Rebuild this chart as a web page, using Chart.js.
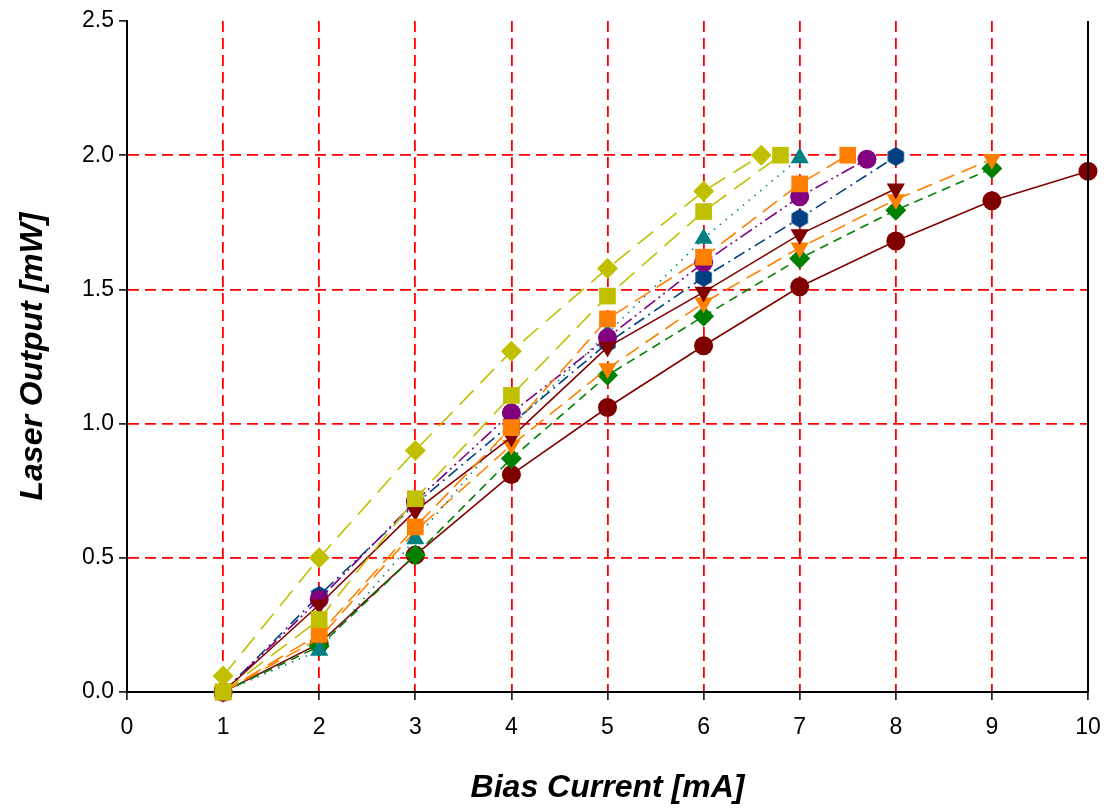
<!DOCTYPE html>
<html>
<head>
<meta charset="utf-8">
<script src="https://cdn.jsdelivr.net/npm/chart.js@4/dist/chart.umd.min.js"></script>
<style>
  html, body { margin: 0; padding: 0; background: #ffffff; }
  #wrap { width: 1112px; height: 808px; }
</style>
</head>
<body>
<div id="wrap"><canvas id="c" width="1112" height="808"></canvas></div>
<script>
// Laser output vs bias current, one curve per device

const xTickValues = [0, 1, 2, 3, 4, 5, 6, 7, 8, 9, 10];
const yTickValues = [0.0, 0.5, 1.0, 1.5, 2.0, 2.5];

const redCircleX = [1, 2, 3, 4, 5, 6, 7, 8, 9, 10];
const redCircleY = [0.00, 0.18, 0.51, 0.81, 1.06, 1.29, 1.51, 1.68, 1.83, 1.94];

const greenDiamondX = [1, 2, 3, 4, 5, 6, 7, 8, 9];
const greenDiamondY = [0.00, 0.17, 0.51, 0.87, 1.18, 1.40, 1.615, 1.795, 1.95];

const orangeDownX = [1, 2, 3, 4, 5, 6, 7, 8, 9];
const orangeDownY = [0.00, 0.20, 0.60, 0.92, 1.205, 1.45, 1.655, 1.835, 1.985];

const tealUpX = [1, 2, 3, 4, 5, 6, 7];
const tealUpY = [0.00, 0.155, 0.57, 0.99, 1.337, 1.69, 1.99];

const blueHexX = [1, 2, 3, 4, 5, 6, 7, 8];
const blueHexY = [0.00, 0.36, 0.70, 1.00, 1.30, 1.545, 1.765, 1.995];

const purpleCircleX = [1, 2, 3, 4, 5, 6, 7, 7.7];
const purpleCircleY = [0.00, 0.345, 0.71, 1.04, 1.32, 1.60, 1.845, 1.985];

const redDownX = [1, 2, 3, 4, 5, 6, 7, 8];
const redDownY = [0.00, 0.325, 0.675, 0.95, 1.285, 1.49, 1.705, 1.875];

const orangeSquareX = [1, 2, 3, 4, 5, 6, 7, 7.5];
const orangeSquareY = [0.00, 0.215, 0.615, 0.985, 1.39, 1.62, 1.893, 2.00];

const oliveSquareX = [1, 2, 3, 4, 5, 6, 6.8];
const oliveSquareY = [0.00, 0.27, 0.72, 1.105, 1.475, 1.79, 2.00];

const oliveDiamondX = [1, 2, 3, 4, 5, 6, 6.6];
const oliveDiamondY = [0.06, 0.50, 0.90, 1.27, 1.578, 1.866, 2.00];

const FONT = "'Liberation Sans', Arial, Helvetica, sans-serif";

// filled hexagon sprite used as a point style
function hexagonSprite(color, r) {
  const c = document.createElement('canvas');
  const s = Math.ceil(r * 2 + 2);
  c.width = s; c.height = s;
  const g = c.getContext('2d');
  g.fillStyle = color;
  g.beginPath();
  for (let k = 0; k < 6; k++) {
    const a = Math.PI / 2 + k * Math.PI / 3;
    const px = s / 2 + r * Math.cos(a);
    const py = s / 2 + r * Math.sin(a);
    if (k === 0) g.moveTo(px, py); else g.lineTo(px, py);
  }
  g.closePath();
  g.fill();
  return c;
}

function pts(xs, ys) { return xs.map((x, i) => ({ x: x, y: ys[i] })); }

function series(xs, ys, color, style, radius, dash, rotation) {
  return {
    data: pts(xs, ys),
    borderColor: color,
    backgroundColor: color,
    pointBackgroundColor: color,
    pointBorderColor: color,
    pointBorderWidth: 0,
    borderWidth: 1.6,
    borderDash: dash,
    pointStyle: style,
    pointRadius: radius,
    pointRotation: rotation || 0,
    tension: 0,
    fill: false,
    clip: false
  };
}

// listed from bottom layer to top layer
const layers = [
  series(redCircleX, redCircleY, '#800000', 'circle', 9.5, []),
  series(greenDiamondX, greenDiamondY, '#008000', 'rectRot', 10.5, [9, 6]),
  series(orangeDownX, orangeDownY, '#FF8000', 'triangle', 10.5, [16, 8], 180),
  series(tealUpX, tealUpY, '#008080', 'triangle', 10.5, [1.5, 6]),
  series(blueHexX, blueHexY, '#004080', hexagonSprite('#004080', 9.5), 9.5, [12, 5, 2, 5]),
  series(purpleCircleX, purpleCircleY, '#800080', 'circle', 9.5, [14, 4, 2, 4, 2, 4]),
  series(redDownX, redDownY, '#800000', 'triangle', 10.5, [], 180),
  series(orangeSquareX, orangeSquareY, '#FF8000', 'rect', 11.8, [18, 8]),
  series(oliveSquareX, oliveSquareY, '#C0C000', 'rect', 11.8, [20, 10]),
  series(oliveDiamondX, oliveDiamondY, '#C0C000', 'rectRot', 10.5, [20, 10])
];
layers.forEach((d, i) => { d.order = layers.length - i; });

const frameRight = {
  id: 'frameRight',
  afterDatasetsDraw(chart) {
    const { ctx, chartArea } = chart;
    ctx.save();
    ctx.strokeStyle = '#000000';
    ctx.lineWidth = 2;
    ctx.beginPath();
    ctx.moveTo(chartArea.right, chartArea.top);
    ctx.lineTo(chartArea.right, chartArea.bottom);
    ctx.stroke();
    ctx.restore();
  }
};

new Chart(document.getElementById('c'), {
  type: 'line',
  data: { datasets: layers },
  plugins: [frameRight],
  options: {
    responsive: false,
    animation: false,
    events: [],
    layout: { padding: { top: 21, right: 24, left: 14, bottom: 1 } },
    plugins: { legend: { display: false }, tooltip: { enabled: false } },
    scales: {
      x: {
        type: 'linear',
        min: xTickValues[0],
        max: xTickValues[xTickValues.length - 1],
        afterBuildTicks: s => { s.ticks = xTickValues.map(v => ({ value: v })); },
        afterFit: s => { s.height = 115; s.paddingLeft = 0; s.paddingRight = 0; },
        ticks: {
          color: '#000000',
          font: { family: FONT, size: 23 },
          padding: 14,
          maxRotation: 0,
          callback: v => String(v)
        },
        grid: {
          color: c => (c.tick && (c.tick.value === 0 || c.tick.value === 10)) ? 'rgba(0,0,0,0)' : '#FF0000',
          lineWidth: 1.8,
          tickColor: '#000000',
          tickLength: 8,
          tickWidth: 1.5
        },
        border: { display: true, color: '#000000', width: 2, dash: [11, 6] },
        title: {
          display: true,
          text: 'Bias Current [mA]',
          color: '#000000',
          font: { family: FONT, size: 32, weight: 'bold', style: 'italic' },
          padding: 0
        }
      },
      y: {
        type: 'linear',
        min: yTickValues[0],
        max: yTickValues[yTickValues.length - 1],
        afterBuildTicks: s => { s.ticks = yTickValues.map(v => ({ value: v })); },
        afterFit: s => { s.width = 113; s.paddingTop = 0; s.paddingBottom = 0; },
        ticks: {
          color: '#000000',
          font: { family: FONT, size: 23 },
          padding: 5,
          callback: v => Number(v).toFixed(1)
        },
        grid: {
          color: c => (c.tick && (c.tick.value === 0 || c.tick.value === 2.5)) ? 'rgba(0,0,0,0)' : '#FF0000',
          lineWidth: 1.8,
          tickColor: '#000000',
          tickLength: 8,
          tickWidth: 1.5
        },
        border: { display: true, color: '#000000', width: 2, dash: [11, 6] },
        title: {
          display: true,
          text: 'Laser Output [mW]',
          color: '#000000',
          font: { family: FONT, size: 32, weight: 'bold', style: 'italic' },
          padding: 0
        }
      }
    }
  }
});
</script>
</body>
</html>
